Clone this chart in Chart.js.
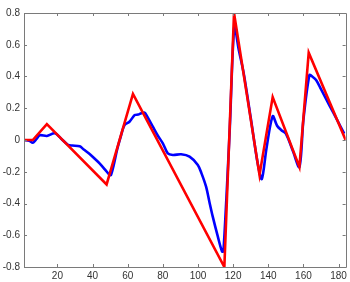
<!DOCTYPE html>
<html>
<head>
<meta charset="utf-8">
<script src="https://cdn.jsdelivr.net/npm/chart.js@4"></script>
<style>
  html, body { margin: 0; padding: 0; background: #fff; }
  #wrap { width: 350px; height: 282px; }
</style>
</head>
<body>
<div id="wrap"><canvas id="c" width="350" height="282"></canvas></div>
<script>
// red series (piecewise linear)
const redX = [1, 6, 14, 48, 63, 115, 120.5, 135, 142.5, 157.7, 163, 184];
const redY = [0, 0, 0.1, -0.28, 0.29, -0.8, 0.8, -0.22, 0.27, -0.17, 0.55, 0];

// blue series
const blueX = [1, 4, 6, 8, 10, 14, 18.5, 22, 26, 28.5, 32.7, 35, 38, 41, 44, 47, 49.7, 50.5,
    52, 54, 56, 58.2, 61, 64, 66, 67.7, 69.6, 71, 74.3, 77, 80, 82.8, 85.7, 90.4, 95.2, 99.9,
    102, 104.6, 106.5, 108.4, 111.3, 113.7, 114.5, 118, 120.7, 123, 126, 130, 134, 136.3,
    139, 142.5, 145, 147.3, 150, 154, 157.7, 160, 163.4, 165, 167.2, 170, 174.7, 179, 183.2];
const blueY = [0, -0.005, -0.017, 0.005, 0.03, 0.025, 0.042, 0.01, -0.03, -0.035, -0.04, -0.06, -0.085, -0.115, -0.147, -0.185, -0.22, -0.22,
    -0.16, -0.06, 0.02, 0.094, 0.115, 0.157, 0.16, 0.168, 0.172, 0.15, 0.084, 0.03, -0.021, -0.084, -0.094, -0.09, -0.105, -0.157,
    -0.21, -0.294, -0.39, -0.483, -0.609, -0.703, -0.7, 0.05, 0.72, 0.58, 0.42, 0.14, -0.15, -0.246,
    -0.05, 0.15, 0.09, 0.063, 0.04, -0.07, -0.17, 0.13, 0.41, 0.4, 0.378, 0.32, 0.22, 0.13, 0.04];

const xTicks = [20, 40, 60, 80, 100, 120, 140, 160, 180];
const yTicks = [-0.8, -0.6, -0.4, -0.2, 0, 0.2, 0.4, 0.6, 0.8];

function toPoints(xs, ys) {
    let pts = [];
    for (let i = 0; i < xs.length; i++) {
        pts.push({ x: xs[i], y: ys[i] });
    }
    return pts;
}

function fmtY(v) {
    let r = Math.round(v * 10) / 10;
    if (r === 0) return '0';
    return String(r);
}

// matlab style box with inward ticks
const boxPlugin = {
    id: 'box',
    afterDatasetsDraw(chart) {
        const ctx = chart.ctx;
        const a = chart.chartArea;
        const xs = chart.scales.x, ys = chart.scales.y;
        ctx.save();
        ctx.strokeStyle = '#7a7a7a';
        ctx.lineWidth = 1;
        ctx.beginPath();
        ctx.rect(Math.round(a.left) + 0.5, Math.round(a.top) + 0.5,
            Math.round(a.right - a.left), Math.round(a.bottom - a.top));
        for (let v of xTicks) {
            let px = Math.round(xs.getPixelForValue(v)) + 0.5;
            ctx.moveTo(px, a.bottom); ctx.lineTo(px, a.bottom - 3);
            ctx.moveTo(px, a.top); ctx.lineTo(px, a.top + 3);
        }
        for (let v of yTicks) {
            let py = Math.round(ys.getPixelForValue(v)) + 0.5;
            ctx.moveTo(a.left, py); ctx.lineTo(a.left + 3, py);
            ctx.moveTo(a.right, py); ctx.lineTo(a.right - 3, py);
        }
        ctx.stroke();
        ctx.restore();
    }
};

new Chart(document.getElementById('c'), {
    type: 'line',
    data: {
        datasets: [{
            data: toPoints(redX, redY),
            borderColor: '#ff0000',
            borderWidth: 2.6,
            pointRadius: 0,
            tension: 0,
            order: 0
        }, {
            data: toPoints(blueX, blueY),
            borderColor: '#0000ff',
            borderWidth: 2.6,
            pointRadius: 0,
            tension: 0.3,
            order: 1
        }]
    },
    options: {
        responsive: false,
        animation: false,
        layout: { padding: { top: 13, right: 3, left: 0, bottom: 0 } },
        plugins: { legend: { display: false }, tooltip: { enabled: false } },
        scales: {
            x: {
                type: 'linear',
                min: 1,
                max: 184,
                grid: { display: false, drawTicks: false },
                border: { display: false },
                afterBuildTicks: (s) => { s.ticks = xTicks.map(v => ({ value: v })); },
                afterFit: (s) => { s.height = 15; },
                ticks: {
                    padding: 3,
                    color: '#333',
                    font: { family: 'Liberation Sans, Arial', size: 10 },
                    maxRotation: 0
                }
            },
            y: {
                min: -0.8,
                max: 0.8,
                grid: { display: false, drawTicks: false },
                border: { display: false },
                afterBuildTicks: (s) => { s.ticks = yTicks.map(v => ({ value: v })); },
                afterFit: (s) => { s.width = 24; },
                ticks: {
                    padding: 4,
                    color: '#333',
                    font: { family: 'Liberation Sans, Arial', size: 10 },
                    callback: (v) => fmtY(v)
                }
            }
        }
    },
    plugins: [boxPlugin]
});
</script>
</body>
</html>
